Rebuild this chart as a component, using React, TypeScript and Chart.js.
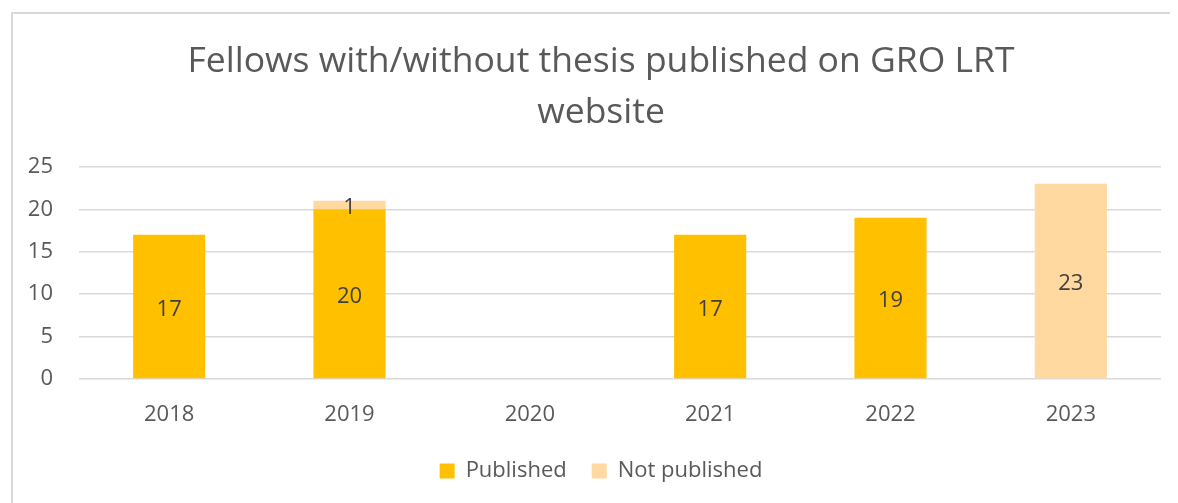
import React, { useEffect, useRef } from "react";
import { Chart, registerables } from "chart.js";

Chart.register(...registerables);

const categories = ["2018", "2019", "2020", "2021", "2022", "2023"];
const publishedValues = [17, 20, 0, 17, 19, 0];
const notPublishedValues = [0, 1, 0, 0, 0, 23];
const yTicks = [0, 5, 10, 15, 20, 25];
const titleLines = ["Fellows with/without thesis published on GRO LRT", "website"];

const FONT = "'Open Sans', 'Noto Sans', sans-serif";

const valueLabels = {
  id: "valueLabels",
  afterDatasetsDraw(chart: any) {
    const ctx = chart.ctx;
    ctx.save();
    ctx.font = `22px ${FONT}`;
    ctx.fillStyle = "#404040";
    ctx.textAlign = "center";
    ctx.textBaseline = "middle";
    chart.data.datasets.forEach((ds: any, di: number) => {
      const meta = chart.getDatasetMeta(di);
      meta.data.forEach((bar: any, i: number) => {
        const v = ds.data[i];
        if (!v) return;
        const { x, y, base } = bar.getProps(["x", "y", "base"], true);
        ctx.fillText(String(v), x, (y + base) / 2 + 3);
      });
    });
    ctx.restore();
  },
};

// widen the y-axis label clip area so tick labels are not cut off
const widenYLabels = {
  id: "widenYLabels",
  afterLayout(chart: any) {
    if (chart.scales.y) chart.scales.y.left = 0;
  },
};

export default function App() {
  const ref = useRef<HTMLCanvasElement | null>(null);

  useEffect(() => {
    if (!ref.current) return;
    const chart = new Chart(ref.current, {
      type: "bar",
      data: {
        labels: categories,
        datasets: [
          {
            label: "Published",
            data: publishedValues,
            backgroundColor: "#FFC000",
            borderWidth: 0,
            categoryPercentage: 1,
            barPercentage: 0.4,
          },
          {
            label: "Not published",
            data: notPublishedValues,
            backgroundColor: "#FFD9A0",
            borderWidth: 0,
            categoryPercentage: 1,
            barPercentage: 0.4,
          },
        ],
      },
      options: {
        animation: false,
        responsive: false,
        maintainAspectRatio: false,
        layout: { padding: { left: 33, right: 17, top: 0, bottom: 11 } },
        plugins: {
          title: {
            display: true,
            text: titleLines,
            color: "#595959",
            font: { family: FONT, size: 35.5, weight: "normal", lineHeight: 1.42 },
            padding: { top: 29, bottom: 29 },
          },
          legend: {
            display: true,
            position: "bottom",
            labels: {
              color: "#595959",
              font: { family: FONT, size: 22 },
              boxWidth: 15,
              boxHeight: 15,
              padding: 25,
            },
          },
          tooltip: { enabled: false },
        },
        scales: {
          x: {
            stacked: true,
            grid: { display: false, drawTicks: false },
            border: { display: false },
            ticks: {
              color: "#595959",
              font: { family: FONT, size: 22 },
              padding: 23,
            },
            afterFit(scale: any) {
              scale.height = 56;
            },
          },
          y: {
            stacked: true,
            min: 0,
            max: 25,
            afterBuildTicks(scale: any) {
              scale.ticks = yTicks.map((v) => ({ value: v }));
            },
            grid: { color: "#d9d9d9", lineWidth: 1.5, drawTicks: false },
            border: { display: false },
            ticks: {
              color: "#595959",
              font: { family: FONT, size: 22 },
              padding: 26,
            },
            afterFit(scale: any) {
              scale.width = 38;
            },
          },
        },
      },
      plugins: [valueLabels, widenYLabels],
    });
    return () => chart.destroy();
  }, []);

  return (
    <div style={{ position: "relative", width: 1170, height: 495, overflow: "hidden", background: "#fff" }}>
      <div
        style={{
          position: "absolute",
          left: 3,
          top: 4,
          width: 1300,
          height: 700,
          borderLeft: "2px solid #d9d9d9",
          borderTop: "2px solid #d9d9d9",
          boxSizing: "border-box",
        }}
      />
      <canvas ref={ref} width={1170} height={495} style={{ position: "absolute", left: 0, top: 0, display: "block" }} />
    </div>
  );
}
